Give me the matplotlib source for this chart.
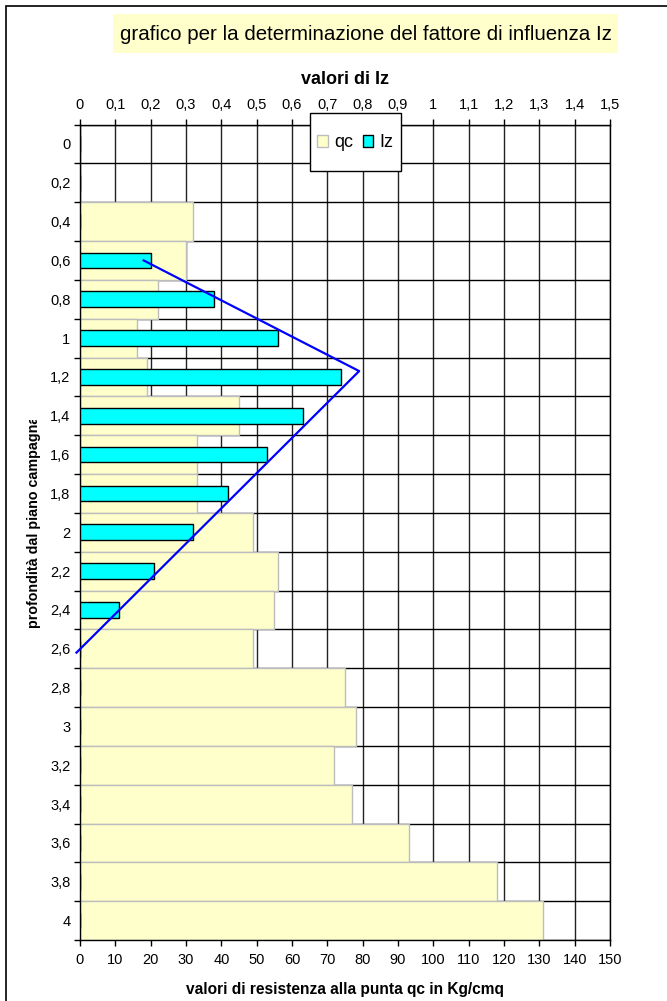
import numpy as np
import matplotlib.pyplot as plt
from matplotlib.transforms import Bbox
from matplotlib.patches import Rectangle

plt.rcParams['font.family'] = ['Liberation Sans', 'DejaVu Sans']

# profondità (m) e valori
profondita = ['0', '0,2', '0,4', '0,6', '0,8', '1', '1,2', '1,4', '1,6', '1,8', '2',
              '2,2', '2,4', '2,6', '2,8', '3', '3,2', '3,4', '3,6', '3,8', '4']
qc = [0, 0, 32, 30, 22, 16, 19, 45, 33, 33, 49, 56, 55, 49, 75, 78, 72, 77, 93, 118, 131]
Iz = [0, 0, 0, 0.2, 0.38, 0.56, 0.74, 0.63, 0.53, 0.42, 0.32, 0.21, 0.11,
      0, 0, 0, 0, 0, 0, 0, 0]

# diagramma teorico di Iz (triangolo)
Iz_linea = [0.18, 0.79, -0.01]
prof_linea = [0.6, 1.17, 2.62]

pos = np.arange(len(profondita))

fig = plt.figure(figsize=(6.67, 10.01), dpi=100)
W, H = 667, 1001

def px(x0, y0, x1, y1):
    # rettangolo in pixel (origine in alto a sinistra) -> coordinate figura
    return (x0 / W, 1 - y1 / H), (x1 - x0) / W, (y1 - y0) / H

# cornice esterna
fig.patches.append(Rectangle((6 / W, -0.1), 1.2, 1 - 6 / H + 0.1, transform=fig.transFigure,
                             fill=False, edgecolor='black', linewidth=1.2))

# titolo con sfondo giallo
xy, w, h = px(113, 14, 618, 53)
fig.patches.append(Rectangle(xy, w, h, transform=fig.transFigure, facecolor='#FFFFCC', edgecolor='none'))
fig.text(366 / W, 1 - 34 / H, 'grafico per la determinazione del fattore di influenza Iz', fontsize=14.8,
         ha='center', va='center')

ax = fig.add_axes([80 / W, 1 - 940 / H, 530 / W, 815.5 / H])
ax.barh(pos, qc, height=1.0, color='#FFFFCC', edgecolor='#BDBDBD', linewidth=1, zorder=2, label='qc')
ax.set_xlim(0, 150)
ax.set_ylim(len(pos) - 0.5, -0.5)
ax.set_xticks(np.arange(0, 151, 10))
ax.set_yticks(pos)
ax.set_yticklabels(profondita)
ax.set_yticks(np.arange(-0.5, len(pos), 1), minor=True)
ax.tick_params(axis='y', which='major', length=0, labelsize=10.5, pad=7)
ax.tick_params(axis='y', which='minor', length=4, width=1, color='black')
ax.tick_params(axis='x', length=4, width=1, labelsize=10.5, pad=5)
ax.grid(True, which='minor', axis='y', color='black', linewidth=1, zorder=0)
ax.grid(True, which='major', axis='x', color='#222222', linewidth=1, zorder=0)
ax.set_axisbelow(True)
for s in ax.spines.values():
    s.set_color('black')
    s.set_linewidth(1)
ax.set_xlabel('valori di resistenza alla punta qc in Kg/cmq', fontsize=11.2, fontweight='bold', labelpad=11)

ax2 = ax.twiny()
ax2.barh(pos, Iz, height=0.4, color='#00FFFF', edgecolor='black', linewidth=1, zorder=3, label='Iz')
ax2.plot(Iz_linea, np.array(prof_linea) / 0.2, color='#0000FF', linewidth=1.6, zorder=4, clip_on=False)
ax2.set_xlim(0, 1.5)
tick_iz = np.arange(0, 1.51, 0.1).round(1)
ax2.set_xticks(tick_iz)
ax2.set_xticklabels([('%g' % v).replace('.', ',') for v in tick_iz])
ax2.tick_params(axis='x', length=4, width=1, labelsize=10.5, pad=5)
ax2.set_xlabel('valori di Iz', fontsize=13, fontweight='bold', labelpad=10)
for s in ax2.spines.values():
    s.set_visible(False)

# legenda: riquadro disegnato a parte
xy, w, h = px(310, 113, 401, 171)
fig.add_artist(Rectangle(xy, w, h, transform=fig.transFigure, facecolor='white', edgecolor='black',
                         linewidth=1, zorder=4))
h1, l1 = ax.get_legend_handles_labels()
h2, l2 = ax2.get_legend_handles_labels()
leg = fig.legend(h1 + h2, l1 + l2, loc='center', bbox_to_anchor=(355.5 / W, 1 - 143 / H), ncol=2,
                 fontsize=13, frameon=False, borderpad=0, handlelength=0.6, handleheight=0.6,
                 handletextpad=0.35, columnspacing=0.5)
leg.set_zorder(5)

yl = fig.text(34 / W, 1 - 522 / H, 'profondità dal piano campagna', rotation=90, fontsize=10.3,
              fontweight='bold', ha='center', va='center')
yl.set_clip_box(Bbox.from_extents(0, 0, W, H - 420))
yl.set_clip_on(True)

fig.savefig('out.png', dpi=100)
